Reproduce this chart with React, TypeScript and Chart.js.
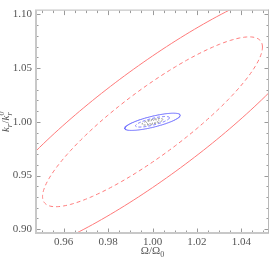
import React, { useEffect, useRef } from 'react';
import { Chart, registerables } from 'chart.js';
Chart.register(...registerables);

const X_RANGE = [0.9475, 1.0525];
const Y_RANGE = [0.8965, 1.1035];
const X_TICKS = [0.96, 0.98, 1.0, 1.02, 1.04];
const Y_TICKS = [0.9, 0.95, 1.0, 1.05, 1.1];
const X_MINOR = [0.95, 0.955, 0.96, 0.965, 0.97, 0.975, 0.98, 0.985, 0.99, 0.995, 1.0, 1.005, 1.01, 1.015, 1.02, 1.025, 1.03, 1.035, 1.04, 1.045, 1.05];
const Y_MINOR = [0.9, 0.91, 0.92, 0.93, 0.94, 0.95, 0.96, 0.97, 0.98, 0.99, 1.0, 1.01, 1.02, 1.03, 1.04, 1.05, 1.06, 1.07, 1.08, 1.09, 1.1];

// Fiducial point and 1-sigma forecast errors / correlations
const CENTER = [1.0, 1.0];
const CONTOUR_LEVELS = [1.52, 2.48]; // sqrt(delta chi^2) for 68% and 95%
const RED_SIGMA = [0.0326, 0.052];
const RED_RHO = 0.88;
const BLUE_SIGMA = [0.00504, 0.00323];
const BLUE_RHO = 0.76;
const GRAY_SIGMA = [0.0019, 0.0012];
const GRAY_RHO = 0.7;

const FONT = "'Liberation Serif', 'DejaVu Serif', serif";

function ellipse(sig: number[], rho: number, k: number, n = 240) {
  const pts: { x: number; y: number }[] = [];
  const s = Math.sqrt(1 - rho * rho);
  for (let i = 0; i <= n; i++) {
    const t = (2 * Math.PI * i) / n;
    pts.push({
      x: CENTER[0] + k * sig[0] * Math.cos(t),
      y: CENTER[1] + k * sig[1] * (rho * Math.cos(t) + s * Math.sin(t)),
    });
  }
  return pts;
}

const isIn = (arr: number[], v: number) => arr.some((a) => Math.abs(a - v) < 1e-6);

const framePlugin = {
  id: 'frame',
  afterDraw(chart: any) {
    const { ctx, chartArea, scales } = chart;
    const { left, right, top, bottom } = chartArea;
    const xs = scales.x;
    const ys = scales.y;
    ctx.save();
    // tick marks (inward)
    ctx.strokeStyle = '#9a9a9a';
    ctx.lineWidth = 1;
    ctx.beginPath();
    for (const v of X_MINOR) {
      const px = Math.round(xs.getPixelForValue(v)) + 0.5;
      const len = isIn(X_TICKS, v) ? 4.5 : 2.5;
      ctx.moveTo(px, bottom);
      ctx.lineTo(px, bottom - len);
      ctx.moveTo(px, top);
      ctx.lineTo(px, top + len);
    }
    for (const v of Y_MINOR) {
      const py = Math.round(ys.getPixelForValue(v)) + 0.5;
      const len = isIn(Y_TICKS, v) ? 4.5 : 2.5;
      ctx.moveTo(left, py);
      ctx.lineTo(left + len, py);
      ctx.moveTo(right, py);
      ctx.lineTo(right - len, py);
    }
    ctx.stroke();
    // frame
    ctx.fillStyle = '#c8c8c8';
    ctx.fillRect(left - 1, top, 2, bottom - top + 1);
    ctx.fillRect(left - 1, bottom - 1, right - left + 1, 2);
    ctx.fillStyle = '#b8b8b8';
    ctx.fillRect(left - 1, top - 1, right - left + 1, 1);
    ctx.fillRect(right - 1, top - 1, 1, bottom - top + 1);

    // x title: Ω/Ω0
    ctx.fillStyle = '#555';
    ctx.textBaseline = 'alphabetic';
    ctx.font = `11px ${FONT}`;
    const main = 'Ω/Ω';
    const wMain = ctx.measureText(main).width;
    ctx.font = `8px ${FONT}`;
    const wSub = ctx.measureText('0').width;
    const cx = (left + right) / 2;
    let x0 = cx - (wMain + wSub) / 2;
    ctx.font = `11px ${FONT}`;
    ctx.fillText(main, x0, 254);
    ctx.font = `8px ${FONT}`;
    ctx.fillText('0', x0 + wMain, 256.5);

    // y title: k_r / k_r^0 (rotated)
    ctx.translate(9, (top + bottom) / 2);
    ctx.rotate(-Math.PI / 2);
    const parts: [string, string, number][] = [];
    const big = `italic 11px ${FONT}`;
    const small = `italic 8px ${FONT}`;
    ctx.font = big;
    const wk = ctx.measureText('k').width;
    ctx.font = small;
    const wr = ctx.measureText('r').width;
    const w0 = ctx.measureText('0').width;
    ctx.font = `11px ${FONT}`;
    const ws = ctx.measureText('/').width;
    const total = wk + wr + 0.5 + ws + wk + Math.max(wr, w0);
    let xx = -total / 2;
    ctx.font = big;
    ctx.fillText('k', xx, 0);
    xx += wk;
    ctx.font = small;
    ctx.fillText('r', xx, 2.5);
    xx += wr + 0.5;
    ctx.font = `11px ${FONT}`;
    ctx.fillText('/', xx, 0);
    xx += ws;
    ctx.font = big;
    ctx.fillText('k', xx, 0);
    xx += wk;
    ctx.font = small;
    ctx.fillText('r', xx, 2.5);
    ctx.fillText('0', xx, -5);
    void parts;
    ctx.restore();
  },
};

export default function App() {
  const ref = useRef<HTMLCanvasElement>(null);
  useEffect(() => {
    document.body.style.margin = '0';
    const RED = '#ff7a7a';
    const BLUE = '#6868ff';
    const GRAY = '#777777';
    const ds = (data: any, color: string, dash: number[], width = 1) => ({
      data,
      showLine: true,
      borderColor: color,
      borderWidth: width,
      borderDash: dash,
      pointRadius: 0,
      fill: false,
      tension: 0,
    });
    const chart = new Chart(ref.current!, {
      type: 'scatter',
      data: {
        datasets: [
          ds(ellipse(RED_SIGMA, RED_RHO, CONTOUR_LEVELS[1]), RED, []),
          ds(ellipse(RED_SIGMA, RED_RHO, CONTOUR_LEVELS[0]), RED, [4, 3]),
          ds(ellipse(BLUE_SIGMA, BLUE_RHO, CONTOUR_LEVELS[1]), BLUE, []),
          ds(ellipse(BLUE_SIGMA, BLUE_RHO, CONTOUR_LEVELS[0]), BLUE, [3, 2]),
          ds(ellipse(GRAY_SIGMA, GRAY_RHO, CONTOUR_LEVELS[1]), GRAY, [2, 1.5]),
          ds(ellipse(GRAY_SIGMA, GRAY_RHO, CONTOUR_LEVELS[0]), GRAY, [1, 1.5]),
        ],
      },
      options: {
        animation: false,
        responsive: false,
        maintainAspectRatio: false,
        layout: { padding: { top: 1, right: 1, left: 0, bottom: 0 } },
        plugins: { legend: { display: false }, tooltip: { enabled: false } },
        scales: {
          x: {
            type: 'linear',
            min: X_RANGE[0],
            max: X_RANGE[1],
            grid: { display: false, drawTicks: false },
            border: { display: false },
            afterBuildTicks: (s: any) => {
              s.ticks = X_TICKS.map((v) => ({ value: v }));
            },
            afterFit: (s: any) => {
              s.height = 28;
            },
            ticks: {
              padding: 3,
              color: '#555',
              font: { family: FONT, size: 11 },
              maxRotation: 0,
              autoSkip: false,
              callback: (v: any) => Number(v).toFixed(2),
            },
          },
          y: {
            type: 'linear',
            min: Y_RANGE[0],
            max: Y_RANGE[1],
            grid: { display: false, drawTicks: false },
            border: { display: false },
            afterBuildTicks: (s: any) => {
              s.ticks = Y_TICKS.map((v) => ({ value: v }));
            },
            afterFit: (s: any) => {
              s.width = 36;
            },
            ticks: {
              padding: 4,
              color: '#555',
              font: { family: FONT, size: 11 },
              autoSkip: false,
              callback: (v: any) => Number(v).toFixed(2),
            },
          },
        },
      },
      plugins: [framePlugin],
    });
    return () => chart.destroy();
  }, []);
  return <canvas ref={ref} width={270} height={261} style={{ display: 'block' }} />;
}
